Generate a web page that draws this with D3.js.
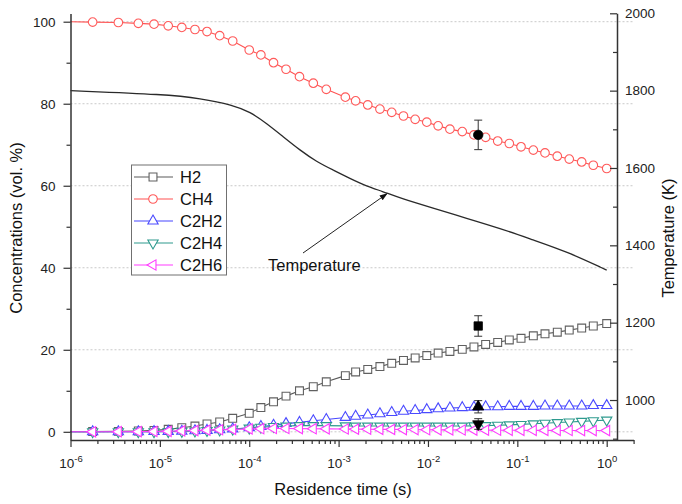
<!DOCTYPE html>
<html>
<head>
<meta charset="utf-8">
<script src="https://cdn.jsdelivr.net/npm/d3@7/dist/d3.min.js"></script>
<style>
  html, body { margin: 0; padding: 0; background: #fff; }
  svg { display: block; font-family: "Liberation Sans", Arial, sans-serif; }
</style>
</head>
<body>
<svg id="chart" width="682" height="504"></svg>
<script>
// Residence-time grid of the simulation (s); index 0 is the inlet state (line only, no marker)
const times = [1e-6, 1.77e-6, 3.43e-6, 5.74e-6, 8.6e-6, 1.24e-5, 1.76e-5, 2.47e-5, 3.37e-5, 4.67e-5,
  6.53e-5, 1.0e-4, 1.35e-4, 1.87e-4, 2.58e-4, 3.65e-4, 5.21e-4, 7.28e-4, 1.19e-3, 1.55e-3,
  2.12e-3, 2.9e-3, 3.93e-3, 5.32e-3, 7.19e-3, 9.7e-3, 1.3e-2, 1.76e-2, 2.42e-2, 3.27e-2,
  4.42e-2, 6.03e-2, 8.13e-2, 0.11, 0.151, 0.204, 0.28, 0.381, 0.525, 0.708, 1.0];

// Species concentrations (vol. %)
const h2 = [0, 0.05, 0.1, 0.2, 0.35, 0.6, 1.0, 1.4, 1.9, 2.4, 3.3, 4.5, 5.9, 7.3, 8.7, 10.0, 11.0, 12.2,
  13.7, 14.6, 15.2, 15.9, 16.7, 17.4, 18.0, 18.6, 19.2, 19.6, 20.1, 20.7, 21.3, 21.8, 22.4, 22.8,
  23.4, 23.9, 24.3, 24.8, 25.3, 25.8, 26.4];
const ch4 = [100, 99.9, 99.8, 99.6, 99.4, 99.0, 98.6, 98.1, 97.6, 96.6, 95.3, 93.1, 91.9, 90.0, 88.4,
  86.6, 85.0, 83.5, 81.6, 80.7, 79.7, 78.7, 77.9, 77.0, 76.2, 75.5, 74.6, 73.8, 73.2, 72.4, 71.8,
  70.9, 70.3, 69.5, 68.7, 68.0, 67.2, 66.5, 65.8, 65.0, 64.2];
const c2h2 = [0, 0, 0, 0, 0.05, 0.1, 0.15, 0.25, 0.35, 0.5, 0.7, 1.0, 1.3, 1.6, 2.0, 2.3, 2.7, 3.0,
  3.5, 3.8, 4.1, 4.4, 4.7, 5.0, 5.2, 5.4, 5.6, 5.8, 5.9, 6.0, 6.1, 6.1, 6.2, 6.2, 6.2, 6.3, 6.3,
  6.3, 6.3, 6.4, 6.4];
const c2h4 = [0, 0, 0, 0, 0.02, 0.05, 0.1, 0.2, 0.3, 0.45, 0.65, 0.9, 1.1, 1.3, 1.4, 1.5, 1.5, 1.5,
  1.45, 1.4, 1.4, 1.4, 1.4, 1.4, 1.4, 1.4, 1.4, 1.4, 1.4, 1.45, 1.5, 1.6, 1.7, 1.8, 1.95, 2.1,
  2.25, 2.4, 2.55, 2.7, 2.85];
const c2h6 = [0, 0, 0.02, 0.04, 0.08, 0.12, 0.2, 0.3, 0.4, 0.5, 0.6, 0.7, 0.75, 0.8, 0.8, 0.78, 0.75,
  0.72, 0.68, 0.65, 0.62, 0.6, 0.58, 0.55, 0.53, 0.5, 0.48, 0.46, 0.44, 0.42, 0.4, 0.38, 0.37,
  0.36, 0.35, 0.34, 0.33, 0.32, 0.31, 0.3, 0.3];

// Gas temperature profile (K)
const tempTimes = [1e-6, 1.2e-5, 2.81e-5, 6.58e-5, 1.02e-4, 1.57e-4, 2.39e-4, 3.7e-4, 5.69e-4, 8.65e-4,
  1.34e-3, 2.06e-3, 3.14e-3, 4.86e-3, 1.14e-2, 2.71e-2, 6.4e-2, 0.15, 0.356, 1.0];
const tempK = [1800, 1790, 1780, 1763, 1745, 1715, 1681, 1646, 1616, 1595, 1573, 1553, 1539, 1522,
  1496, 1470, 1444, 1414, 1384, 1336];

// Measured outlet composition with uncertainty
const expTime = 0.0365;
const expNames = ["H2", "CH4", "C2H2", "C2H4"];
const expValues = [25.8, 72.4, 6.1, 1.9];
const expErrors = [2.5, 3.6, 1.5, 1.3];

// Axis ticks
const xMajorTicks = [-6, -5, -4, -3, -2, -1, 0];
const yLeftTicks = [0, 20, 40, 60, 80, 100];
const yLeftMinor = [10, 30, 50, 70, 90];
const yRightTicks = [1000, 1200, 1400, 1600, 1800, 2000];
const yRightMinor = [900, 1100, 1300, 1500, 1700, 1900];

const seriesNames = ["H2", "CH4", "C2H2", "C2H4", "C2H6"];
const seriesValues = [h2, ch4, c2h2, c2h4, c2h6];

// ---- styling ----
const colors = { H2: "#5a5a5a", CH4: "#ff5252", C2H2: "#4646ff", C2H4: "#2e9a8e", C2H6: "#ff3cff" };
const markerStroke = { H2: "#606060", CH4: "#ff5a5a", C2H2: "#4a4aff", C2H4: "#2e9a8e", C2H6: "#ff3cff" };
const symbols = {
  H2: { type: d3.symbolSquare, size: 62, rot: 0 },
  CH4: { type: d3.symbolCircle, size: 58, rot: 0 },
  C2H2: { type: d3.symbolTriangle, size: 46, rot: 0 },
  C2H4: { type: d3.symbolTriangle, size: 46, rot: 180 },
  C2H6: { type: d3.symbolTriangle, size: 46, rot: -90 }
};
const axisColor = "#333";

const svg = d3.select("#chart");

const x = d3.scaleLog().domain([1e-6, 2]).range([70.5, 633.6]);
const yL = d3.scaleLinear().domain([-2, 102]).range([440, 13.5]);
const yR = d3.scaleLinear().domain([896.6, 2000]).range([440, 13.3]);
const rightAxisX = 617;

// dotted horizontal grid
svg.append("g").selectAll("line").data(yLeftTicks).join("line")
  .attr("x1", x.range()[0]).attr("x2", x.range()[1])
  .attr("y1", d => yL(d)).attr("y2", d => yL(d))
  .attr("stroke", "#c9c9c9").attr("stroke-width", 1).attr("stroke-dasharray", "2,2");

// temperature profile
svg.append("path")
  .datum(tempTimes.map((t, i) => [t, tempK[i]]))
  .attr("fill", "none").attr("stroke", "#2a2a2a").attr("stroke-width", 1.3)
  .attr("d", d3.line().x(d => x(d[0])).y(d => yR(d[1])).curve(d3.curveBasis));

// species lines + markers
const lineGen = d3.line().x(d => x(d[0])).y(d => yL(d[1]));
seriesNames.forEach((name, si) => {
  const pts = times.map((t, i) => [t, seriesValues[si][i]]);
  const g = svg.append("g");
  g.append("path").datum(pts)
    .attr("fill", "none").attr("stroke", colors[name]).attr("stroke-width", 1.1)
    .attr("d", lineGen);
  const sym = symbols[name];
  g.selectAll("path.m").data(pts.slice(1)).join("path")
    .attr("class", "m")
    .attr("d", d3.symbol().type(sym.type).size(sym.size)())
    .attr("transform", d => `translate(${x(d[0])},${yL(d[1])}) rotate(${sym.rot})`)
    .attr("fill", "#fff").attr("stroke", markerStroke[name]).attr("stroke-width", 1.1);
});

// measured points with error bars
const expG = svg.append("g");
expNames.forEach((name, i) => {
  const cx = x(expTime), v = expValues[i], e = expErrors[i];
  expG.append("line").attr("x1", cx).attr("x2", cx).attr("y1", yL(v - e)).attr("y2", yL(v + e))
    .attr("stroke", "#333").attr("stroke-width", 1);
  [v - e, v + e].forEach(c => expG.append("line").attr("x1", cx - 4).attr("x2", cx + 4)
    .attr("y1", yL(c)).attr("y2", yL(c)).attr("stroke", "#333").attr("stroke-width", 1));
  const sym = symbols[name];
  expG.append("path")
    .attr("d", d3.symbol().type(sym.type).size(name === "CH4" ? 70 : sym.size + 8)())
    .attr("transform", `translate(${cx},${yL(v)}) rotate(${sym.rot})`)
    .attr("fill", "#000").attr("stroke", "#000").attr("stroke-width", 0.8);
});

// ---- axes ----
function styleAxis(g) {
  g.selectAll(".domain").attr("stroke", axisColor).attr("stroke-width", 1.5);
  g.selectAll(".tick line").attr("stroke", axisColor).attr("stroke-width", 1.2);
  g.selectAll("text").attr("fill", "#222").style("font-size", "13.5px")
    .style("font-family", '"Liberation Sans", Arial, sans-serif');
}

// bottom axis: minor ticks
const xMinor = [];
for (let e = -6; e <= 0; e++) for (let m = 2; m <= 9; m++) {
  const v = m * Math.pow(10, e);
  if (v <= 2) xMinor.push(v);
}
svg.append("g").attr("transform", "translate(0,440)")
  .call(d3.axisBottom(x).tickValues(xMinor).tickSize(4).tickFormat(""))
  .call(g => { g.select(".domain").remove(); styleAxis(g); });
// bottom axis: decades with superscript labels
const xAxisG = svg.append("g").attr("transform", "translate(0,440)")
  .call(d3.axisBottom(x).tickValues(xMajorTicks.map(e => Math.pow(10, e)))
    .tickSize(7).tickSizeOuter(0).tickPadding(9).tickFormat(""));
styleAxis(xAxisG);
xAxisG.selectAll(".tick").each(function (d, i) {
  const t = d3.select(this).append("text")
    .attr("y", 28).attr("text-anchor", "middle").attr("fill", "#222")
    .style("font-size", "13.5px");
  t.append("tspan").text("10");
  t.append("tspan").attr("dy", -6).style("font-size", "9.5px").text(String(xMajorTicks[i]));
});

// left axis
svg.append("g").attr("transform", "translate(70.5,0)")
  .call(d3.axisLeft(yL).tickValues(yLeftMinor).tickSize(4).tickFormat(""))
  .call(g => { g.select(".domain").remove(); styleAxis(g); });
svg.append("g").attr("transform", "translate(70.5,0)")
  .call(d3.axisLeft(yL).tickValues(yLeftTicks).tickSize(7).tickSizeOuter(0).tickPadding(8))
  .call(styleAxis);

// right axis (ticks point into the plot)
svg.append("g").attr("transform", `translate(${rightAxisX},0)`)
  .call(d3.axisRight(yR).tickValues(yRightMinor.filter(v => v >= yR.domain()[0])).tickSizeInner(-4).tickFormat(""))
  .call(g => { g.select(".domain").remove(); styleAxis(g); });
svg.append("g").attr("transform", `translate(${rightAxisX},0)`)
  .call(d3.axisRight(yR).tickValues(yRightTicks).tickSizeInner(-7).tickSizeOuter(0).tickPadding(8)
    .tickFormat(d3.format("d")))
  .call(styleAxis);

// axis titles
svg.append("text").attr("x", 343).attr("y", 495).attr("text-anchor", "middle")
  .style("font-size", "16.5px").attr("fill", "#111").text("Residence time (s)");
svg.append("text").attr("transform", "translate(22,228) rotate(-90)").attr("text-anchor", "middle")
  .style("font-size", "16.5px").attr("fill", "#111").text("Concentrations (vol. %)");
svg.append("text").attr("transform", "translate(674,238) rotate(-90)").attr("text-anchor", "middle")
  .style("font-size", "16.5px").attr("fill", "#111").text("Temperature (K)");

// temperature annotation with arrow
svg.append("defs").append("marker").attr("id", "arrowhead")
  .attr("viewBox", "0 0 10 10").attr("refX", 9).attr("refY", 5)
  .attr("markerWidth", 8).attr("markerHeight", 8).attr("orient", "auto")
  .attr("markerUnits", "userSpaceOnUse")
  .append("path").attr("d", "M0,1.5 L10,5 L0,8.5 Z").attr("fill", "#111");
const arrowAt = 3.3e-3;
svg.append("line")
  .attr("x1", 303).attr("y1", 253)
  .attr("x2", x(arrowAt) + 2).attr("y2", yR(1536) + 1)
  .attr("stroke", "#222").attr("stroke-width", 1).attr("marker-end", "url(#arrowhead)");
svg.append("text").attr("x", 268).attr("y", 271)
  .style("font-size", "16.5px").attr("fill", "#111").text("Temperature");

// legend
const legend = svg.append("g");
legend.append("rect").attr("x", 131.5).attr("y", 165).attr("width", 95).attr("height", 110)
  .attr("fill", "#fff").attr("stroke", "#707070").attr("stroke-width", 1);
seriesNames.forEach((name, i) => {
  const ly = 177 + i * 22;
  legend.append("line").attr("x1", 134).attr("x2", 173).attr("y1", ly).attr("y2", ly)
    .attr("stroke", colors[name]).attr("stroke-width", 1.1);
  const sym = symbols[name];
  legend.append("path").attr("d", d3.symbol().type(sym.type).size(sym.size)())
    .attr("transform", `translate(153,${ly}) rotate(${sym.rot})`)
    .attr("fill", "#fff").attr("stroke", markerStroke[name]).attr("stroke-width", 1.1);
  legend.append("text").attr("x", 180).attr("y", ly + 6)
    .style("font-size", "16.5px").attr("fill", "#111").text(name);
});
</script>
</body>
</html>
